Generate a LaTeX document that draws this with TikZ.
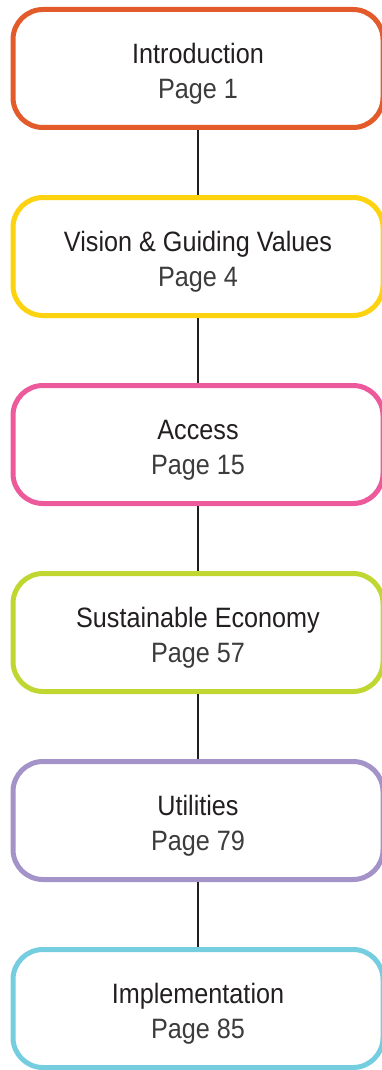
\documentclass[tikz,border=0pt]{standalone}
\usepackage{fontspec}
\setmainfont{Liberation Sans}[FakeStretch=0.9]
\usetikzlibrary{positioning}

\definecolor{introcol}{HTML}{E35B2A}
\definecolor{visioncol}{HTML}{FDD20E}
\definecolor{accesscol}{HTML}{EC5A9C}
\definecolor{econcol}{HTML}{C0D732}
\definecolor{utilcol}{HTML}{A393C9}
\definecolor{implcol}{HTML}{74CEE0}
\definecolor{titlegray}{HTML}{231F20}
\definecolor{pagegray}{HTML}{3C3C3C}

% taller first line pushes both lines down a little
\newcommand{\chapstrut}{\rule{0pt}{30pt}}

\tikzset{
  chapter/.style={draw=#1, rounded corners=30pt, line width=5pt, fill=white,
    minimum width=370pt, minimum height=118pt, inner sep=0pt,
    align=center, text=titlegray, font=\fontsize{28}{35}\selectfont},
  link/.style={draw=titlegray, line width=2.5pt}
}

\begin{document}
\begin{tikzpicture}[x=1pt, y=-1pt]
\useasboundingbox (0,0) rectangle (381,1070);

\node (intro) at (198, 68.5) [chapter=introcol] {\chapstrut Introduction\\{\color{pagegray}Page 1}};
\node (vision) at (198, 256.5) [chapter=visioncol] {\chapstrut Vision \& Guiding Values\\{\color{pagegray}Page 4}};
\node (access) at (198, 444.5) [chapter=accesscol] {\chapstrut Access\\{\color{pagegray}Page 15}};
\node (econ) at (198, 632.5) [chapter=econcol] {\chapstrut Sustainable Economy\\{\color{pagegray}Page 57}};
\node (util) at (198, 820.5) [chapter=utilcol] {\chapstrut Utilities\\{\color{pagegray}Page 79}};
\node (impl) at (198, 1008.5) [chapter=implcol] {\chapstrut Implementation\\{\color{pagegray}Page 85}};

\draw[link] (intro) to (vision);
\draw[link] (vision) to (access);
\draw[link] (access) to (econ);
\draw[link] (econ) to (util);
\draw[link] (util) to (impl);
\end{tikzpicture}
\end{document}
